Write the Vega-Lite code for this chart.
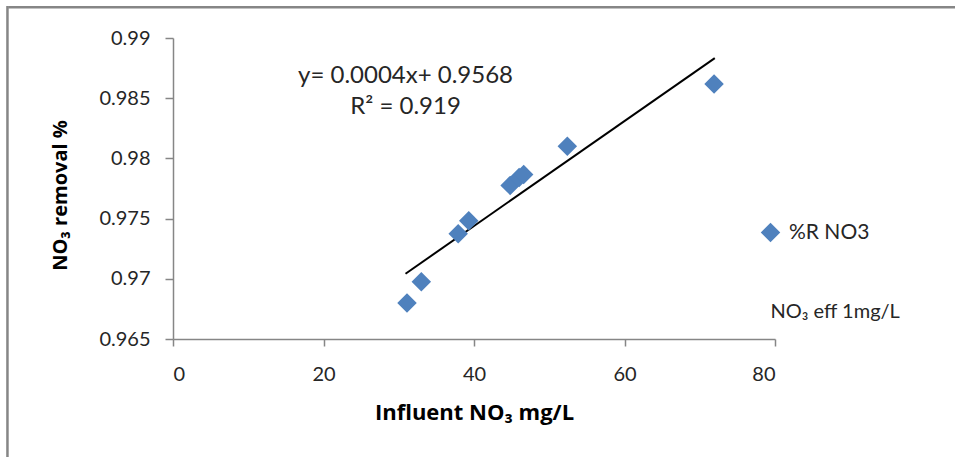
{
  "$schema": "https://vega.github.io/schema/vega-lite/v6.json",
  "autosize": "none",
  "width": 602,
  "height": 301,
  "padding": {"left": 173, "top": 38, "right": 180, "bottom": 118},
  "background": "white",
  "config": {
    "view": {"stroke": null},
    "font": "Lato",
    "axis": {"grid": false, "domainColor": "#868686", "domainWidth": 1.5, "tickColor": "#868686", "tickWidth": 1.5, "tickSize": 8, "labelFont": "Lato", "labelFontSize": 20, "labelColor": "#262626", "titleFont": "Open Sans", "titleFontSize": 20, "titleFontWeight": "bold", "titleColor": "#000000"}
  },
  "datasets": {
    "pts": [
      {"influent": 31.1, "removal": 0.9680, "series": "%R NO3"},
      {"influent": 33.0, "removal": 0.96975, "series": "%R NO3"},
      {"influent": 37.9, "removal": 0.97375, "series": "%R NO3"},
      {"influent": 39.3, "removal": 0.97483, "series": "%R NO3"},
      {"influent": 44.8, "removal": 0.97775, "series": "%R NO3"},
      {"influent": 46.0, "removal": 0.97842, "series": "%R NO3"},
      {"influent": 46.6, "removal": 0.97867, "series": "%R NO3"},
      {"influent": 52.4, "removal": 0.9810, "series": "%R NO3"},
      {"influent": 71.9, "removal": 0.98617, "series": "%R NO3"}
    ],
    "trend": [
      {"influent": 30.9, "removal": 0.97042},
      {"influent": 72.0, "removal": 0.98833}
    ],
    "eq": [
      {"x": 30.9, "y": 0.98683, "label": "y= 0.0004x+ 0.9568"},
      {"x": 30.9, "y": 0.98425, "label": "R² = 0.919"}
    ],
    "note": [
      {"x": 79.4, "y": 0.96725, "label": "NO₃ eff 1mg/L"}
    ],
    "frameTop": [{"x": -21.9, "x2": 110, "y": 0.99255}],
    "frameLeft": [{"x": -22.0, "y": 0.99265, "y2": 0.95}]
  },
  "layer": [
    {
      "data": {"name": "frameTop"},
      "mark": {"type": "rule", "color": "#868686", "strokeWidth": 2.5},
      "encoding": {
        "x": {"field": "x", "type": "quantitative", "scale": {"domain": [0, 80], "nice": false}},
        "x2": {"field": "x2"},
        "y": {"field": "y", "type": "quantitative", "scale": {"domain": [0.965, 0.99], "nice": false, "zero": false}}
      }
    },
    {
      "data": {"name": "frameLeft"},
      "mark": {"type": "rule", "color": "#868686", "strokeWidth": 2.5},
      "encoding": {
        "x": {"field": "x", "type": "quantitative"},
        "y": {"field": "y", "type": "quantitative"},
        "y2": {"field": "y2"}
      }
    },
    {
      "data": {"name": "trend"},
      "mark": {"type": "line", "color": "#000000", "strokeWidth": 2},
      "encoding": {
        "x": {"field": "influent", "type": "quantitative"},
        "y": {"field": "removal", "type": "quantitative"}
      }
    },
    {
      "data": {"name": "pts"},
      "mark": {"type": "point", "shape": "diamond", "filled": true, "opacity": 1, "size": 380},
      "encoding": {
        "x": {"field": "influent", "type": "quantitative",
          "axis": {"values": [0, 20, 40, 60, 80], "title": "Influent NO₃ mg/L", "titleFontSize": 22, "tickSize": 7, "labelPadding": 18, "titleX": 301, "titleY": 73, "titleBaseline": "middle", "titleAlign": "center"}},
        "y": {"field": "removal", "type": "quantitative",
          "axis": {"values": [0.965, 0.97, 0.975, 0.98, 0.985, 0.99], "format": "~g", "title": "NO₃ removal %", "labelPadding": 15, "titleX": -113, "titleY": 157, "titleAngle": -90, "titleAlign": "center", "titleBaseline": "middle"}},
        "color": {"field": "series", "type": "nominal",
          "scale": {"domain": ["%R NO3"], "range": ["#4F81BD"]},
          "legend": {"title": null, "orient": "none", "legendX": 587, "legendY": 184, "symbolType": "diamond", "symbolSize": 380, "labelFontSize": 21, "labelFont": "Lato", "labelColor": "#262626", "labelOffset": 8}}
      }
    },
    {
      "data": {"name": "eq"},
      "mark": {"type": "text", "color": "#262626", "baseline": "middle", "align": "center", "fontSize": 24},
      "encoding": {
        "x": {"field": "x", "type": "quantitative"},
        "y": {"field": "y", "type": "quantitative"},
        "text": {"field": "label"}
      }
    },
    {
      "data": {"name": "note"},
      "mark": {"type": "text", "color": "#262626", "baseline": "middle", "align": "left", "fontSize": 20},
      "encoding": {
        "x": {"field": "x", "type": "quantitative"},
        "y": {"field": "y", "type": "quantitative"},
        "text": {"field": "label"}
      }
    }
  ]
}
